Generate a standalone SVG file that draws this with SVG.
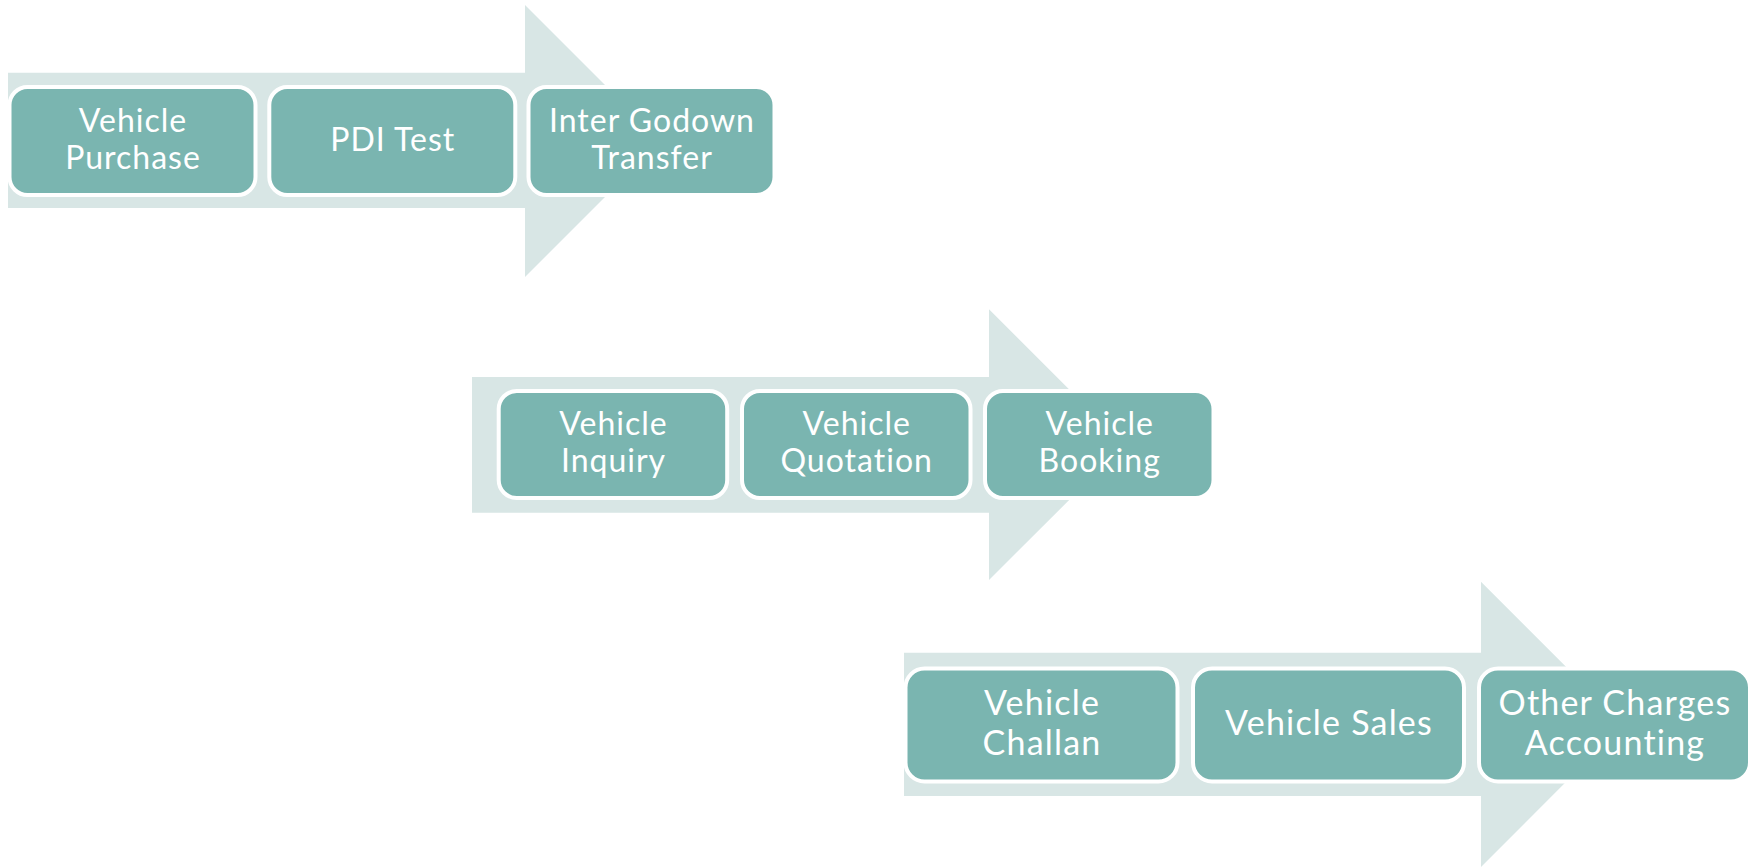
<svg xmlns="http://www.w3.org/2000/svg" width="1754" height="868" viewBox="0 0 1754 868">
<style>
.arrow{fill:#D8E6E5;stroke:none}
.box{fill:#7AB5B0;stroke:#FFFFFF;stroke-width:4}
.t{font-family:Lato,"Noto Sans",sans-serif;fill:#FFFFFF;text-anchor:middle;font-size:32px;letter-spacing:1px}
.t3{font-size:34px;letter-spacing:1.2px}
</style>
<rect width="1754" height="868" fill="#FFFFFF"/>
<g id="connectors">
<polygon id="arrow1" class="arrow" points="8,72.7 525,72.7 525,5 661,141 525,277 525,208 8,208"/>
<polygon id="arrow2" class="arrow" points="472,377 989,377 989,309.3 1124.5,444.8 989,580 989,512.7 472,512.7"/>
<polygon id="arrow3" class="arrow" points="904,652.7 1481,652.7 1481,581.7 1623.5,724.3 1481,867 1481,796 904,796"/>
</g>
<g id="n1"><rect class="box" x="9.5" y="87" width="246" height="108" rx="18"/>
<text class="t" x="133" y="131.7">Vehicle</text><text class="t" x="133" y="169">Purchase</text></g>
<g id="n2"><rect class="box" x="269.3" y="87" width="246" height="108" rx="18"/>
<text class="t" x="392.8" y="150.7">PDI Test</text></g>
<g id="n3"><rect class="box" x="528.5" y="87" width="246" height="108" rx="18"/>
<text class="t" x="652" y="131.7">Inter Godown</text><text class="t" x="652" y="168.5">Transfer</text></g>
<g id="n4"><rect class="box" x="498.7" y="391" width="228.5" height="107" rx="18"/>
<text class="t" x="613.5" y="435">Vehicle</text><text class="t" x="613.5" y="472">Inquiry</text></g>
<g id="n5"><rect class="box" x="742" y="391" width="228.5" height="107" rx="18"/>
<text class="t" x="856.7" y="435">Vehicle</text><text class="t" x="856.7" y="472">Quotation</text></g>
<g id="n6"><rect class="box" x="985" y="391" width="228.5" height="107" rx="18"/>
<text class="t" x="1099.7" y="435">Vehicle</text><text class="t" x="1099.7" y="472">Booking</text></g>
<g id="n7"><rect class="box" x="905.5" y="668.5" width="272" height="113" rx="19"/>
<text class="t t3" x="1042" y="715">Vehicle</text><text class="t t3" x="1042" y="755">Challan</text></g>
<g id="n8"><rect class="box" x="1193" y="668.5" width="271" height="113" rx="19"/>
<text class="t t3" x="1329" y="735">Vehicle Sales</text></g>
<g id="n9"><rect class="box" x="1479" y="668.5" width="271" height="113" rx="19"/>
<text class="t t3" x="1615" y="715">Other Charges</text><text class="t t3" x="1615" y="755">Accounting</text></g>
</svg>
